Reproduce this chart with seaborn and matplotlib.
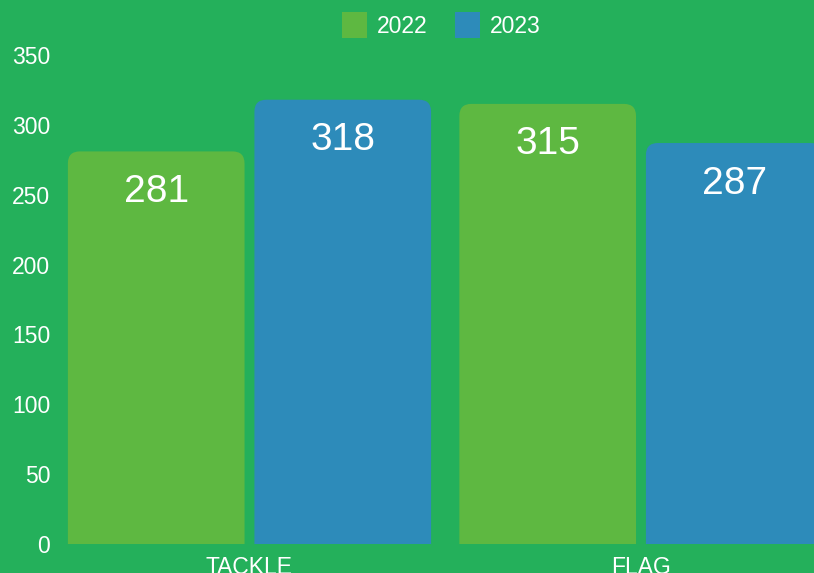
import matplotlib
matplotlib.use("Agg")
import matplotlib.pyplot as plt
import pandas as pd
import seaborn as sns
from matplotlib.patches import FancyBboxPatch, Patch

# values
categories = ["TACKLE", "FLAG"]
years = ["2022", "2023"]
values_2022 = [281, 315]
values_2023 = [318, 287]

bg = "#24b05b"
colors = {"2022": "#5eb841", "2023": "#2d8bba"}

df = pd.DataFrame({
    "category": categories * 2,
    "year": [years[0]] * 2 + [years[1]] * 2,
    "value": values_2022 + values_2023,
})

sns.set_style("white")
plt.rcParams["font.family"] = ["Liberation Sans", "DejaVu Sans"]

W, H = 814, 573
fig = plt.figure(figsize=(W / 100, H / 100), dpi=100, facecolor=bg)
ax_l, ax_r, ax_b, ax_t = 60, 814, 544, 55
ax = fig.add_axes([ax_l / W, (H - ax_b) / H, (ax_r - ax_l) / W, (ax_b - ax_t) / H])
ax.set_facecolor(bg)

sns.barplot(data=df, x="category", y="value", hue="year", palette=colors,
            width=0.953, gap=0.053, ax=ax, legend=False, saturation=1)

xlim = (-0.484, 1.442)
ylim = (0, 350)
ax.set_xlim(*xlim)
ax.set_ylim(*ylim)

# swap plain bars for bars with rounded tops
px_x = (ax_r - ax_l) / (xlim[1] - xlim[0])
px_y = (ax_b - ax_t) / (ylim[1] - ylim[0])
r_px = 12
bars = list(ax.patches)
for p in bars:
    x, w, h = p.get_x(), p.get_width(), p.get_height()
    fc = p.get_facecolor()
    p.remove()
    ext = r_px / px_y
    fb = FancyBboxPatch((x, -ext), w, h + ext,
                        boxstyle=f"round,pad=0,rounding_size={r_px / px_x}",
                        mutation_aspect=px_x / px_y, facecolor=fc,
                        edgecolor="none", clip_on=True)
    ax.add_patch(fb)
    ax.text(x + w / 2, h - 29, f"{int(round(h))}", ha="center", va="center",
            color="white", fontsize=28)

ax.set_yticks(range(0, 351, 50))
ax.tick_params(axis="y", length=0, pad=7, labelsize=16.5, labelcolor="white")
ax.tick_params(axis="x", length=0, pad=8.5, labelsize=16.5, labelcolor="white")
ax.set_xlabel("")
ax.set_ylabel("")
sns.despine(ax=ax, left=True, bottom=True)

handles = [Patch(facecolor=colors[y], edgecolor="none", label=y) for y in years]
fig.legend(handles=handles, loc="center", bbox_to_anchor=(0.5424, 0.956),
           ncol=2, frameon=False, fontsize=16.5, labelcolor="white",
           handlelength=1.1, handleheight=1.35, handletextpad=0.43,
           columnspacing=1.2, borderpad=0)

fig.savefig("out.png", dpi=100, facecolor=bg)
